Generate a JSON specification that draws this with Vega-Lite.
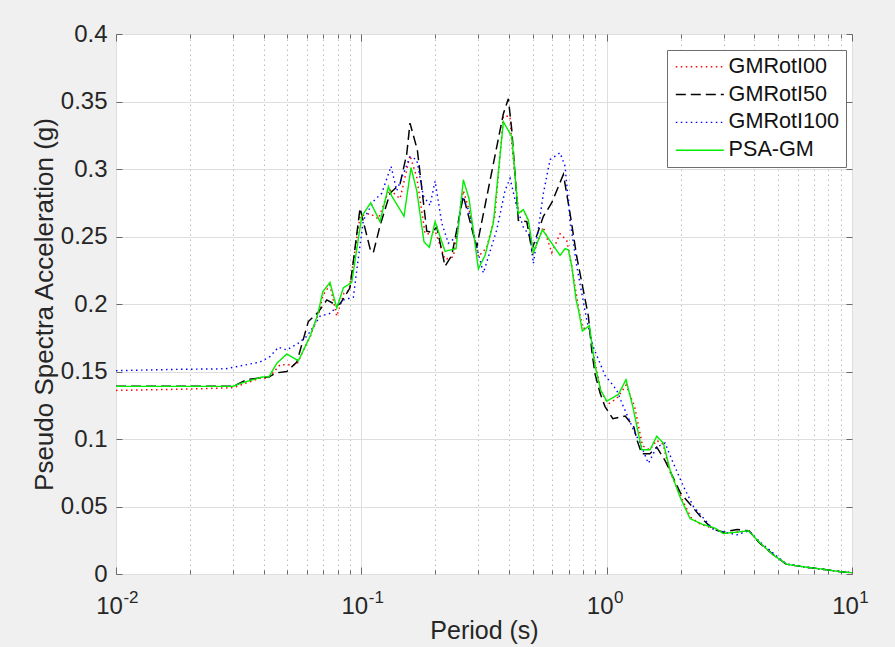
{
  "$schema": "https://vega.github.io/schema/vega-lite/v6.json",
  "width": 736,
  "height": 540,
  "autosize": {"type": "none"},
  "padding": {"left": 116, "top": 34, "right": 43, "bottom": 73},
  "background": "#f0f0f0",
  "config": {
    "view": {"fill": "white", "stroke": "#7a7a7a", "strokeWidth": 1},
    "font": "Liberation Sans",
    "axis": {"labelColor": "#262626", "titleColor": "#262626", "titleFontWeight": "normal", "tickColor": "#6a6a6a", "domain": false},
    "legend": {
      "orient": "none", "legendX": 551, "legendY": 16,
      "fillColor": "white", "strokeColor": "#6e6e6e", "padding": 6,
      "labelFontSize": 21.6, "labelColor": "#111111", "labelLimit": 300,
      "symbolType": "M-4,0H4", "symbolSize": 144, "symbolOffset": 16,
      "rowPadding": 4.8, "labelOffset": 18
    }
  },
  "data": {"values": [
    {"s":"GMRotI00","T":0.01,"v":0.136},{"s":"GMRotI00","T":0.02,"v":0.137},{"s":"GMRotI00","T":0.03,"v":0.138},{"s":"GMRotI00","T":0.0386,"v":0.145},{"s":"GMRotI00","T":0.0418,"v":0.145},{"s":"GMRotI00","T":0.0466,"v":0.155},{"s":"GMRotI00","T":0.0546,"v":0.155},{"s":"GMRotI00","T":0.0571,"v":0.163},{"s":"GMRotI00","T":0.062,"v":0.176},{"s":"GMRotI00","T":0.067,"v":0.193},{"s":"GMRotI00","T":0.07,"v":0.207},{"s":"GMRotI00","T":0.0745,"v":0.214},{"s":"GMRotI00","T":0.0794,"v":0.191},{"s":"GMRotI00","T":0.085,"v":0.208},{"s":"GMRotI00","T":0.0891,"v":0.21},{"s":"GMRotI00","T":0.0988,"v":0.265},{"s":"GMRotI00","T":0.1085,"v":0.267},{"s":"GMRotI00","T":0.1173,"v":0.263},{"s":"GMRotI00","T":0.13,"v":0.285},{"s":"GMRotI00","T":0.1438,"v":0.278},{"s":"GMRotI00","T":0.1579,"v":0.31},{"s":"GMRotI00","T":0.1682,"v":0.294},{"s":"GMRotI00","T":0.1819,"v":0.252},{"s":"GMRotI00","T":0.1906,"v":0.252},{"s":"GMRotI00","T":0.2,"v":0.254},{"s":"GMRotI00","T":0.2194,"v":0.233},{"s":"GMRotI00","T":0.2372,"v":0.235},{"s":"GMRotI00","T":0.2605,"v":0.284},{"s":"GMRotI00","T":0.2775,"v":0.267},{"s":"GMRotI00","T":0.2999,"v":0.235},{"s":"GMRotI00","T":0.3245,"v":0.242},{"s":"GMRotI00","T":0.35,"v":0.265},{"s":"GMRotI00","T":0.3793,"v":0.339},{"s":"GMRotI00","T":0.4038,"v":0.339},{"s":"GMRotI00","T":0.4104,"v":0.319},{"s":"GMRotI00","T":0.4365,"v":0.27},{"s":"GMRotI00","T":0.4725,"v":0.266},{"s":"GMRotI00","T":0.5026,"v":0.238},{"s":"GMRotI00","T":0.5521,"v":0.257},{"s":"GMRotI00","T":0.5974,"v":0.238},{"s":"GMRotI00","T":0.6457,"v":0.252},{"s":"GMRotI00","T":0.6876,"v":0.247},{"s":"GMRotI00","T":0.7207,"v":0.228},{"s":"GMRotI00","T":0.77,"v":0.196},{"s":"GMRotI00","T":0.8,"v":0.182},{"s":"GMRotI00","T":0.85,"v":0.182},{"s":"GMRotI00","T":0.9,"v":0.155},{"s":"GMRotI00","T":0.95,"v":0.135},{"s":"GMRotI00","T":1.016,"v":0.126},{"s":"GMRotI00","T":1.1,"v":0.13},{"s":"GMRotI00","T":1.2,"v":0.14},{"s":"GMRotI00","T":1.3,"v":0.124},{"s":"GMRotI00","T":1.4,"v":0.095},{"s":"GMRotI00","T":1.5,"v":0.092},{"s":"GMRotI00","T":1.6,"v":0.099},{"s":"GMRotI00","T":1.7,"v":0.096},{"s":"GMRotI00","T":1.8,"v":0.077},{"s":"GMRotI00","T":2,"v":0.058},{"s":"GMRotI00","T":2.2,"v":0.042},{"s":"GMRotI00","T":2.4,"v":0.037},{"s":"GMRotI00","T":2.8,"v":0.033},{"s":"GMRotI00","T":3,"v":0.03},{"s":"GMRotI00","T":3.4,"v":0.031},{"s":"GMRotI00","T":3.8,"v":0.032},{"s":"GMRotI00","T":4.2,"v":0.023},{"s":"GMRotI00","T":4.8,"v":0.014},{"s":"GMRotI00","T":5.4,"v":0.0072},{"s":"GMRotI00","T":6.5,"v":0.005},{"s":"GMRotI00","T":7.6,"v":0.0035},{"s":"GMRotI00","T":9,"v":0.0017},{"s":"GMRotI00","T":10,"v":0.001},
    {"s":"GMRotI50","T":0.01,"v":0.139},{"s":"GMRotI50","T":0.02,"v":0.139},{"s":"GMRotI50","T":0.03,"v":0.139},{"s":"GMRotI50","T":0.0341,"v":0.144},{"s":"GMRotI50","T":0.042,"v":0.146},{"s":"GMRotI50","T":0.0452,"v":0.149},{"s":"GMRotI50","T":0.0497,"v":0.15},{"s":"GMRotI50","T":0.0546,"v":0.157},{"s":"GMRotI50","T":0.0608,"v":0.187},{"s":"GMRotI50","T":0.0668,"v":0.194},{"s":"GMRotI50","T":0.0723,"v":0.203},{"s":"GMRotI50","T":0.0794,"v":0.199},{"s":"GMRotI50","T":0.0819,"v":0.2},{"s":"GMRotI50","T":0.0899,"v":0.212},{"s":"GMRotI50","T":0.0988,"v":0.271},{"s":"GMRotI50","T":0.1092,"v":0.239},{"s":"GMRotI50","T":0.1119,"v":0.238},{"s":"GMRotI50","T":0.1192,"v":0.258},{"s":"GMRotI50","T":0.1309,"v":0.282},{"s":"GMRotI50","T":0.1438,"v":0.289},{"s":"GMRotI50","T":0.1531,"v":0.311},{"s":"GMRotI50","T":0.1579,"v":0.334},{"s":"GMRotI50","T":0.1692,"v":0.314},{"s":"GMRotI50","T":0.1848,"v":0.254},{"s":"GMRotI50","T":0.1936,"v":0.253},{"s":"GMRotI50","T":0.203,"v":0.257},{"s":"GMRotI50","T":0.2194,"v":0.228},{"s":"GMRotI50","T":0.2336,"v":0.236},{"s":"GMRotI50","T":0.2605,"v":0.28},{"s":"GMRotI50","T":0.2953,"v":0.242},{"s":"GMRotI50","T":0.3793,"v":0.341},{"s":"GMRotI50","T":0.3974,"v":0.352},{"s":"GMRotI50","T":0.4104,"v":0.329},{"s":"GMRotI50","T":0.4365,"v":0.262},{"s":"GMRotI50","T":0.4725,"v":0.261},{"s":"GMRotI50","T":0.4953,"v":0.24},{"s":"GMRotI50","T":0.5521,"v":0.265},{"s":"GMRotI50","T":0.5974,"v":0.275},{"s":"GMRotI50","T":0.6661,"v":0.296},{"s":"GMRotI50","T":0.7093,"v":0.267},{"s":"GMRotI50","T":0.7552,"v":0.235},{"s":"GMRotI50","T":0.8423,"v":0.191},{"s":"GMRotI50","T":0.87,"v":0.165},{"s":"GMRotI50","T":0.8968,"v":0.148},{"s":"GMRotI50","T":0.94,"v":0.134},{"s":"GMRotI50","T":0.985,"v":0.124},{"s":"GMRotI50","T":1.06,"v":0.115},{"s":"GMRotI50","T":1.19,"v":0.117},{"s":"GMRotI50","T":1.29,"v":0.109},{"s":"GMRotI50","T":1.33,"v":0.099},{"s":"GMRotI50","T":1.39,"v":0.089},{"s":"GMRotI50","T":1.5,"v":0.089},{"s":"GMRotI50","T":1.6,"v":0.094},{"s":"GMRotI50","T":1.73,"v":0.084},{"s":"GMRotI50","T":2,"v":0.06},{"s":"GMRotI50","T":2.48,"v":0.04},{"s":"GMRotI50","T":2.72,"v":0.033},{"s":"GMRotI50","T":3,"v":0.031},{"s":"GMRotI50","T":3.4,"v":0.033},{"s":"GMRotI50","T":3.8,"v":0.032},{"s":"GMRotI50","T":4.2,"v":0.023},{"s":"GMRotI50","T":4.8,"v":0.014},{"s":"GMRotI50","T":5.4,"v":0.0072},{"s":"GMRotI50","T":6.5,"v":0.005},{"s":"GMRotI50","T":7.6,"v":0.0035},{"s":"GMRotI50","T":9,"v":0.0017},{"s":"GMRotI50","T":10,"v":0.001},
    {"s":"GMRotI100","T":0.01,"v":0.1506},{"s":"GMRotI100","T":0.018,"v":0.1516},{"s":"GMRotI100","T":0.028,"v":0.152},{"s":"GMRotI100","T":0.0386,"v":0.157},{"s":"GMRotI100","T":0.0424,"v":0.161},{"s":"GMRotI100","T":0.0459,"v":0.168},{"s":"GMRotI100","T":0.0497,"v":0.166},{"s":"GMRotI100","T":0.0554,"v":0.171},{"s":"GMRotI100","T":0.0599,"v":0.176},{"s":"GMRotI100","T":0.0637,"v":0.183},{"s":"GMRotI100","T":0.0679,"v":0.191},{"s":"GMRotI100","T":0.0745,"v":0.193},{"s":"GMRotI100","T":0.0845,"v":0.203},{"s":"GMRotI100","T":0.0928,"v":0.205},{"s":"GMRotI100","T":0.0958,"v":0.225},{"s":"GMRotI100","T":0.1019,"v":0.262},{"s":"GMRotI100","T":0.1119,"v":0.276},{"s":"GMRotI100","T":0.1211,"v":0.282},{"s":"GMRotI100","T":0.1322,"v":0.302},{"s":"GMRotI100","T":0.1394,"v":0.284},{"s":"GMRotI100","T":0.1579,"v":0.309},{"s":"GMRotI100","T":0.1682,"v":0.307},{"s":"GMRotI100","T":0.179,"v":0.28},{"s":"GMRotI100","T":0.1906,"v":0.273},{"s":"GMRotI100","T":0.1998,"v":0.291},{"s":"GMRotI100","T":0.2127,"v":0.26},{"s":"GMRotI100","T":0.2263,"v":0.245},{"s":"GMRotI100","T":0.2449,"v":0.25},{"s":"GMRotI100","T":0.2567,"v":0.28},{"s":"GMRotI100","T":0.2731,"v":0.27},{"s":"GMRotI100","T":0.2953,"v":0.242},{"s":"GMRotI100","T":0.3144,"v":0.223},{"s":"GMRotI100","T":0.3565,"v":0.255},{"s":"GMRotI100","T":0.3853,"v":0.284},{"s":"GMRotI100","T":0.4038,"v":0.293},{"s":"GMRotI100","T":0.43,"v":0.272},{"s":"GMRotI100","T":0.4575,"v":0.257},{"s":"GMRotI100","T":0.4873,"v":0.25},{"s":"GMRotI100","T":0.5026,"v":0.23},{"s":"GMRotI100","T":0.5521,"v":0.282},{"s":"GMRotI100","T":0.588,"v":0.307},{"s":"GMRotI100","T":0.6457,"v":0.312},{"s":"GMRotI100","T":0.6767,"v":0.302},{"s":"GMRotI100","T":0.7093,"v":0.262},{"s":"GMRotI100","T":0.7552,"v":0.228},{"s":"GMRotI100","T":0.8297,"v":0.188},{"s":"GMRotI100","T":0.8827,"v":0.168},{"s":"GMRotI100","T":0.9851,"v":0.147},{"s":"GMRotI100","T":1.049,"v":0.141},{"s":"GMRotI100","T":1.1,"v":0.136},{"s":"GMRotI100","T":1.17,"v":0.124},{"s":"GMRotI100","T":1.285,"v":0.107},{"s":"GMRotI100","T":1.368,"v":0.097},{"s":"GMRotI100","T":1.479,"v":0.082},{"s":"GMRotI100","T":1.6,"v":0.094},{"s":"GMRotI100","T":1.73,"v":0.097},{"s":"GMRotI100","T":1.87,"v":0.082},{"s":"GMRotI100","T":2.055,"v":0.065},{"s":"GMRotI100","T":2.257,"v":0.05},{"s":"GMRotI100","T":2.723,"v":0.033},{"s":"GMRotI100","T":3.392,"v":0.029},{"s":"GMRotI100","T":3.8,"v":0.032},{"s":"GMRotI100","T":4.2,"v":0.024},{"s":"GMRotI100","T":4.8,"v":0.015},{"s":"GMRotI100","T":5.4,"v":0.0075},{"s":"GMRotI100","T":6.5,"v":0.005},{"s":"GMRotI100","T":7.6,"v":0.0035},{"s":"GMRotI100","T":9,"v":0.0017},{"s":"GMRotI100","T":10,"v":0.001},
    {"s":"PSA-GM","T":0.01,"v":0.139},{"s":"PSA-GM","T":0.02,"v":0.139},{"s":"PSA-GM","T":0.03,"v":0.139},{"s":"PSA-GM","T":0.032,"v":0.141},{"s":"PSA-GM","T":0.0362,"v":0.144},{"s":"PSA-GM","T":0.0397,"v":0.146},{"s":"PSA-GM","T":0.042,"v":0.146},{"s":"PSA-GM","T":0.0452,"v":0.156},{"s":"PSA-GM","T":0.0497,"v":0.163},{"s":"PSA-GM","T":0.0554,"v":0.158},{"s":"PSA-GM","T":0.0618,"v":0.176},{"s":"PSA-GM","T":0.0666,"v":0.193},{"s":"PSA-GM","T":0.0696,"v":0.209},{"s":"PSA-GM","T":0.0745,"v":0.216},{"s":"PSA-GM","T":0.0794,"v":0.197},{"s":"PSA-GM","T":0.0845,"v":0.212},{"s":"PSA-GM","T":0.0914,"v":0.216},{"s":"PSA-GM","T":0.1004,"v":0.265},{"s":"PSA-GM","T":0.1092,"v":0.275},{"s":"PSA-GM","T":0.1192,"v":0.261},{"s":"PSA-GM","T":0.1289,"v":0.287},{"s":"PSA-GM","T":0.133,"v":0.28},{"s":"PSA-GM","T":0.1493,"v":0.265},{"s":"PSA-GM","T":0.1594,"v":0.301},{"s":"PSA-GM","T":0.1682,"v":0.284},{"s":"PSA-GM","T":0.1801,"v":0.246},{"s":"PSA-GM","T":0.1893,"v":0.242},{"s":"PSA-GM","T":0.1998,"v":0.261},{"s":"PSA-GM","T":0.2194,"v":0.239},{"s":"PSA-GM","T":0.2433,"v":0.241},{"s":"PSA-GM","T":0.2605,"v":0.292},{"s":"PSA-GM","T":0.2748,"v":0.278},{"s":"PSA-GM","T":0.2999,"v":0.226},{"s":"PSA-GM","T":0.3193,"v":0.236},{"s":"PSA-GM","T":0.3452,"v":0.26},{"s":"PSA-GM","T":0.3793,"v":0.335},{"s":"PSA-GM","T":0.4104,"v":0.324},{"s":"PSA-GM","T":0.4365,"v":0.267},{"s":"PSA-GM","T":0.4575,"v":0.27},{"s":"PSA-GM","T":0.4796,"v":0.262},{"s":"PSA-GM","T":0.5026,"v":0.238},{"s":"PSA-GM","T":0.547,"v":0.255},{"s":"PSA-GM","T":0.5974,"v":0.245},{"s":"PSA-GM","T":0.6457,"v":0.236},{"s":"PSA-GM","T":0.6767,"v":0.241},{"s":"PSA-GM","T":0.6981,"v":0.24},{"s":"PSA-GM","T":0.7207,"v":0.228},{"s":"PSA-GM","T":0.7505,"v":0.203},{"s":"PSA-GM","T":0.7669,"v":0.196},{"s":"PSA-GM","T":0.7962,"v":0.18},{"s":"PSA-GM","T":0.8503,"v":0.184},{"s":"PSA-GM","T":0.8968,"v":0.154},{"s":"PSA-GM","T":0.9463,"v":0.136},{"s":"PSA-GM","T":1.001,"v":0.128},{"s":"PSA-GM","T":1.116,"v":0.133},{"s":"PSA-GM","T":1.199,"v":0.144},{"s":"PSA-GM","T":1.278,"v":0.124},{"s":"PSA-GM","T":1.39,"v":0.092},{"s":"PSA-GM","T":1.503,"v":0.092},{"s":"PSA-GM","T":1.6,"v":0.102},{"s":"PSA-GM","T":1.702,"v":0.097},{"s":"PSA-GM","T":1.813,"v":0.077},{"s":"PSA-GM","T":1.992,"v":0.057},{"s":"PSA-GM","T":2.188,"v":0.041},{"s":"PSA-GM","T":2.442,"v":0.037},{"s":"PSA-GM","T":2.766,"v":0.034},{"s":"PSA-GM","T":2.991,"v":0.03},{"s":"PSA-GM","T":3.392,"v":0.031},{"s":"PSA-GM","T":3.782,"v":0.032},{"s":"PSA-GM","T":4.22,"v":0.023},{"s":"PSA-GM","T":4.782,"v":0.014},{"s":"PSA-GM","T":5.424,"v":0.0072},{"s":"PSA-GM","T":6.543,"v":0.005},{"s":"PSA-GM","T":7.645,"v":0.0035},{"s":"PSA-GM","T":8.944,"v":0.0017},{"s":"PSA-GM","T":9.98,"v":0.001}
  ]},
  "resolve": {"axis": {"x": "independent", "y": "independent"}},
  "layer": [
    {
      "mark": {"type": "line", "clip": true},
      "encoding": {
        "x": {
          "field": "T", "type": "quantitative",
          "scale": {"type": "log", "domain": [0.01, 10], "nice": false},
          "axis": {
            "values": [0.01,0.02,0.03,0.04,0.05,0.06,0.07,0.08,0.09,0.1,0.2,0.3,0.4,0.5,0.6,0.7,0.8,0.9,1,2,3,4,5,6,7,8,9,10],
            "labelExpr": "datum.value === 0.01 || datum.value === 0.1 || datum.value === 1 || datum.value === 10 ? '10' : ''",
            "labelOverlap": false, "labelFlush": false,
            "labelFontSize": 24, "labelPadding": 27, "labelOffset": -7,
            "grid": true,
            "gridColor": {"condition": {"test": "datum.value === 0.01 || datum.value === 0.1 || datum.value === 1 || datum.value === 10", "value": "#dedede"}, "value": "#bdbdbd"},
            "gridDash": {"condition": {"test": "datum.value === 0.01 || datum.value === 0.1 || datum.value === 1 || datum.value === 10", "value": []}, "value": [1.5, 3.5]},
            "tickSize": {"condition": {"test": "datum.value === 0.01 || datum.value === 0.1 || datum.value === 1 || datum.value === 10", "value": -7}, "value": -4},
            "title": "Period (s)", "titleFontSize": 25, "titlePadding": -3
          }
        },
        "y": {
          "field": "v", "type": "quantitative",
          "scale": {"domain": [0, 0.4], "nice": false},
          "axis": {
            "values": [0,0.05,0.1,0.15,0.2,0.25,0.3,0.35,0.4],
            "format": "~g",
            "labelFontSize": 24, "labelPadding": 15, "tickSize": -6,
            "grid": true, "gridColor": "#dedede",
            "title": "Pseudo Spectra Acceleration (g)", "titleFontSize": 26, "titlePadding": 3
          }
        },
        "color": {
          "field": "s", "type": "nominal", "title": null,
          "scale": {"domain": ["GMRotI00","GMRotI50","GMRotI100","PSA-GM"], "range": ["#ff0000","#000000","#0000ff","#00ee00"]}
        },
        "strokeDash": {
          "field": "s", "type": "nominal", "title": null,
          "scale": {"domain": ["GMRotI00","GMRotI50","GMRotI100","PSA-GM"], "range": [[1.5,3.5],[10,5],[1.5,3.5],[1,0]]}
        },
        "strokeWidth": {
          "field": "s", "type": "nominal", "title": null,
          "scale": {"domain": ["GMRotI00","GMRotI50","GMRotI100","PSA-GM"], "range": [1.5,1.4,1.6,1.8]}
        }
      }
    },
    {
      "mark": {"type": "line", "strokeOpacity": 0},
      "encoding": {
        "x": {
          "field": "T", "type": "quantitative",
          "scale": {"type": "log", "domain": [0.01, 10], "nice": false},
          "axis": {
            "orient": "bottom",
            "values": [0.01,0.1,1,10],
            "labelExpr": "datum.value === 0.01 ? '-2' : datum.value === 0.1 ? '-1' : datum.value === 1 ? '0' : '1'",
            "labelOverlap": false, "labelFlush": false,
            "labelFontSize": 17, "labelPadding": 15,
            "labelOffset": {"condition": {"test": "datum.value < 1", "value": 14.5}, "value": 11.5},
            "ticks": false, "grid": false, "title": null
          }
        },
        "y": {
          "field": "v", "type": "quantitative",
          "scale": {"domain": [0, 0.4], "nice": false},
          "axis": {
            "orient": "right",
            "values": [0,0.05,0.1,0.15,0.2,0.25,0.3,0.35,0.4],
            "labels": false, "tickSize": -6, "grid": false, "title": null
          }
        }
      }
    },
    {
      "mark": {"type": "line", "strokeOpacity": 0},
      "encoding": {
        "x": {
          "field": "T", "type": "quantitative",
          "scale": {"type": "log", "domain": [0.01, 10], "nice": false},
          "axis": {
            "orient": "top",
            "values": [0.01,0.02,0.03,0.04,0.05,0.06,0.07,0.08,0.09,0.1,0.2,0.3,0.4,0.5,0.6,0.7,0.8,0.9,1,2,3,4,5,6,7,8,9,10],
            "labels": false, "grid": false, "title": null,
            "tickSize": {"condition": {"test": "datum.value === 0.01 || datum.value === 0.1 || datum.value === 1 || datum.value === 10", "value": -7}, "value": -4}
          }
        },
        "y": {
          "field": "v", "type": "quantitative",
          "scale": {"domain": [0, 0.4], "nice": false},
          "axis": null
        }
      }
    }
  ]
}
